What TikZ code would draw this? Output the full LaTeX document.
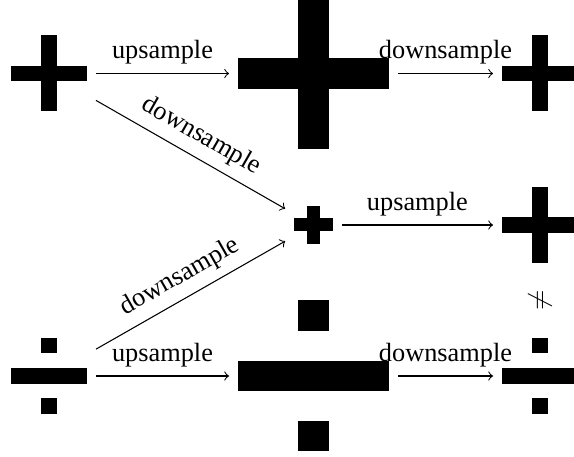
\documentclass[tikz,border=0pt]{standalone}
\usepackage{fontspec}
\setmainfont{Liberation Serif}
\tikzset{
  pixnode/.style={inner sep=0pt, outer sep=3.42pt, minimum width={#1*0.38pt}, minimum height={#1*0.38pt}},
  plusshape/.style 2 args={pixnode=#1, path picture={
     \fill ([yshift=-#2*0.19pt]path picture bounding box.west) rectangle ([yshift=#2*0.19pt]path picture bounding box.east);
     \fill ([xshift=-#2*0.19pt]path picture bounding box.south) rectangle ([xshift=#2*0.19pt]path picture bounding box.north);}},
  divshape/.style 2 args={pixnode=#1, path picture={
     \fill ([yshift=-#2*0.19pt]path picture bounding box.west) rectangle ([yshift=#2*0.19pt]path picture bounding box.east);
     \fill ([xshift=-#2*0.19pt]path picture bounding box.north) rectangle ([xshift=#2*0.19pt,yshift=-#2*0.38pt]path picture bounding box.north);
     \fill ([xshift=-#2*0.19pt]path picture bounding box.south) rectangle ([xshift=#2*0.19pt,yshift=#2*0.38pt]path picture bounding box.south);}},
  arr/.style={->},
  lbl/.style={font=\normalsize}
}
\begin{document}
\begin{tikzpicture}[x=0.38pt,y=-0.38pt]
\useasboundingbox (0,0) rectangle (574,457);
% top row
\node[plusshape={76}{15.5}] (a) at (49,73.5) {};
\node[plusshape={151}{30.6}] (b) at (313.5,73.5) {};
\node[plusshape={76}{15.5}] (c) at (540,73.5) {};
% middle row
\node[plusshape={38.7}{13}] (m) at (313.5,225) {};
\node[plusshape={76}{15.5}] (d) at (540,225) {};
% bottom row
\node[divshape={76}{15.5}] (e) at (49,376) {};
\node[divshape={151}{30.6}] (f) at (313.5,376) {};
\node[divshape={76}{15.5}] (g) at (540,376) {};
% not equal
\node[rotate=90, inner sep=0pt] (neq) at (540,300) {$\neq$};
% connectors
\draw[arr] (a) -- node[lbl, above] {upsample} (b);
\draw[arr] (b) -- node[lbl, above] {downsample} (c);
\draw[arr] (a) -- node[lbl, above, sloped] {downsample} (m);
\draw[arr] (e) -- node[lbl, above, sloped] {downsample} (m);
\draw[arr] (m) -- node[lbl, above] {upsample} (d);
\draw[arr] (e) -- node[lbl, above] {upsample} (f);
\draw[arr] (f) -- node[lbl, above] {downsample} (g);
\end{tikzpicture}
\end{document}
